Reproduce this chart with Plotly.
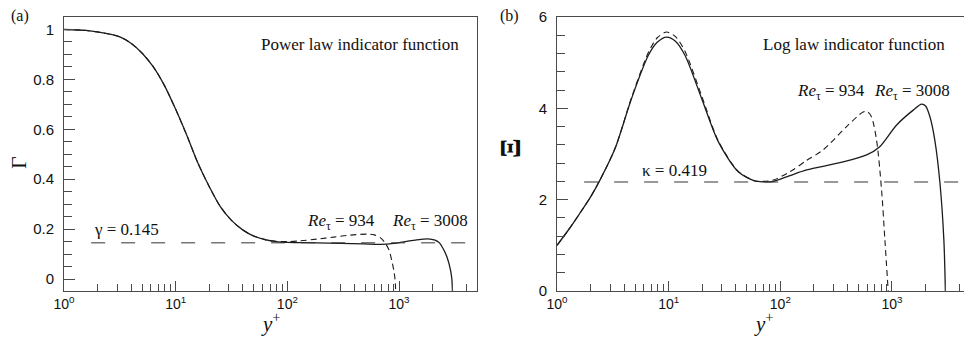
import plotly.graph_objects as go

# ---------------- data ----------------
# (a) Power law indicator function, Re_tau = 3008 (solid)
yp_a_3008 = [1, 1.58, 2.51, 3.16, 3.98, 5.01, 6.31, 7.94, 10, 12.6, 15.8, 20, 25.1, 31.6,
             39.8, 50.1, 63.1, 79.4, 100, 184, 300, 480, 683, 900, 1100, 1400, 1660, 1900,
             2100, 2300, 2520, 2700, 2890, 2970, 3008]
gam_3008 = [1.0, 0.996, 0.982, 0.970, 0.945, 0.905, 0.850, 0.775, 0.680, 0.575, 0.465,
            0.370, 0.290, 0.235, 0.197, 0.172, 0.158, 0.150, 0.147, 0.145, 0.143, 0.141,
            0.139, 0.143, 0.149, 0.156, 0.160, 0.160, 0.156, 0.145, 0.116, 0.085, 0.036,
            0.0, -0.05]
# (a) Re_tau = 934 (dashed)
yp_a_934 = [1, 1.58, 2.51, 3.16, 3.98, 5.01, 6.31, 7.94, 10, 12.6, 15.8, 20, 25.1, 31.6,
            39.8, 50.1, 63.1, 79.4, 100, 130, 184, 260, 367, 519, 600, 683, 750, 813, 860,
            896, 920, 934]
gam_934 = [1.0, 0.996, 0.982, 0.970, 0.945, 0.905, 0.850, 0.775, 0.680, 0.575, 0.465,
           0.370, 0.290, 0.235, 0.197, 0.172, 0.158, 0.151, 0.150, 0.153, 0.160, 0.168,
           0.176, 0.180, 0.177, 0.165, 0.145, 0.116, 0.075, 0.036, 0.0, -0.05]
gamma_const = 0.145

# (b) Log law indicator function, Re_tau = 3008 (solid)
yp_b_3008 = [1, 1.26, 1.58, 2.0, 2.45, 3.31, 4.66, 6.58, 7.94, 9.6, 11.5, 14.0, 19.7, 27.8,
             42, 59, 70, 86.5, 120, 172, 342, 593, 777, 1096, 1550, 1840, 2000, 2190,
             2420, 2690, 2915, 3008]
xi_3008 = [1.0, 1.33, 1.68, 2.06, 2.45, 3.12, 4.22, 5.16, 5.45, 5.56, 5.47, 5.16, 4.22,
           3.27, 2.61, 2.41, 2.39, 2.40, 2.52, 2.65, 2.81, 2.98, 3.16, 3.63, 3.96, 4.09,
           4.05, 3.81, 3.30, 2.36, 1.12, 0.0]
# (b) Re_tau = 934 (dashed)
yp_b_934 = [1, 1.26, 1.58, 2.0, 2.45, 3.31, 4.66, 6.58, 7.94, 9.6, 11.5, 14.0, 19.7, 27.8,
            42, 59, 70, 86.5, 122, 170, 242, 392, 552, 600, 656, 728, 807, 864, 925]
xi_934 = [1.0, 1.33, 1.68, 2.06, 2.45, 3.12, 4.24, 5.22, 5.55, 5.67, 5.57, 5.25, 4.28,
          3.29, 2.62, 2.41, 2.40, 2.43, 2.61, 2.85, 3.09, 3.60, 3.92, 3.93, 3.81, 3.30,
          2.21, 1.12, 0.0]
kappa = 0.419
xi_const = 1 / kappa

xtick_vals = [1, 10, 100, 1000]
xtick_text = ["10<sup>0</sup>", "10<sup>1</sup>", "10<sup>2</sup>", "10<sup>3</sup>"]

# ---------------- figure ----------------
W, H = 964, 338
def px(x):
    return x / W
def py(y):
    return 1 - y / H

CURVE = "#1c1c1c"
AXC = "#4a4a4a"
SANS = "Liberation Sans, Arial, sans-serif"
SERIF = "Liberation Serif, Times New Roman, serif"

fig = go.Figure()

fig.add_trace(go.Scatter(x=yp_a_3008, y=gam_3008, mode="lines", xaxis="x", yaxis="y",
                         line=dict(color=CURVE, width=1.3, shape="spline", smoothing=0.8)))
fig.add_trace(go.Scatter(x=yp_a_934, y=gam_934, mode="lines", xaxis="x", yaxis="y",
                         line=dict(color=CURVE, width=1.1, dash="6px,4px", shape="spline", smoothing=0.8)))
fig.add_trace(go.Scatter(x=[1.75, 5000], y=[gamma_const, gamma_const], mode="lines",
                         xaxis="x", yaxis="y", line=dict(color="#333", width=1, dash="14px,16px")))

fig.add_trace(go.Scatter(x=yp_b_3008, y=xi_3008, mode="lines", xaxis="x2", yaxis="y2",
                         line=dict(color=CURVE, width=1.3, shape="spline", smoothing=0.8)))
fig.add_trace(go.Scatter(x=yp_b_934, y=xi_934, mode="lines", xaxis="x2", yaxis="y2",
                         line=dict(color=CURVE, width=1.1, dash="6px,4px", shape="spline", smoothing=0.8)))
fig.add_trace(go.Scatter(x=[1.75, 5000], y=[xi_const, xi_const], mode="lines",
                         xaxis="x2", yaxis="y2", line=dict(color="#333", width=1, dash="14px,16px")))

ydom = [py(291), py(16.5)]
xcommon = dict(type="log", showgrid=False, zeroline=False, showline=True, linecolor=AXC,
               linewidth=1, mirror=True, ticks="inside", ticklen=10, tickcolor=AXC,
               automargin=False,
               tickmode="array", tickvals=xtick_vals, ticktext=xtick_text,
               tickfont=dict(family=SANS, size=14, color="#111"),
               minor=dict(ticks="inside", ticklen=7, tickcolor=AXC, dtick="D1", showgrid=False))
ycommon = dict(showgrid=False, zeroline=False, showline=True, linecolor=AXC, linewidth=1,
               ticks="inside", ticklen=11, tickcolor=AXC, ticklabelstandoff=6,
               automargin=False,
               tickfont=dict(family=SANS, size=15, color="#111"))

fig.update_layout(
    width=W, height=H, margin=dict(l=0, r=0, t=0, b=0, autoexpand=False),
    paper_bgcolor="white", plot_bgcolor="white", showlegend=False,
    xaxis=dict(xcommon, domain=[px(64), px(477)], range=[0, 3.698], anchor="y"),
    yaxis=dict(ycommon, domain=ydom, range=[-0.048, 1.052], tickmode="array",
               tickvals=[0, 0.2, 0.4, 0.6, 0.8, 1], ticktext=["0", "0.2", "0.4", "0.6", "0.8", "1"],
               mirror=True, anchor="x",
               minor=dict(ticks="inside", ticklen=8, tickcolor=AXC, dtick=0.05, tick0=0)),
    xaxis2=dict(xcommon, domain=[px(557), 1.0], range=[0, 3.645], anchor="y2"),
    yaxis2=dict(ycommon, domain=ydom, range=[0, 6.01], tickmode="array",
                tickvals=[0, 2, 4, 6], ticktext=["0", "2", "4", "6"], mirror=False, anchor="x2",
                minor=dict(ticks="inside", ticklen=8, tickcolor=AXC, dtick=0.4, tick0=0)),
)

ann = []
def add_text(text, x, y, size, family=SERIF, angle=0, xanchor="center", yanchor="middle"):
    ann.append(dict(text=text, x=px(x), y=py(y), xref="paper", yref="paper", showarrow=False,
                    font=dict(family=family, size=size, color="#111"), textangle=angle,
                    xanchor=xanchor, yanchor=yanchor))

# panel (a)
add_text("(a)", 20, 16, 16)
add_text("Γ", 18, 163, 22, angle=-90)
add_text("<i>y</i><sup>+</sup>", 271, 322, 21)
add_text("Power law indicator function", 360, 44, 17)
add_text("γ = 0.145", 126, 229, 17)
add_text("<i>Re</i><sub>τ</sub> = 934", 341, 222, 17)
add_text("<i>Re</i><sub>τ</sub> = 3008", 430, 222, 17)
# panel (b)
add_text("(b)", 509, 16, 16)
add_text("<b>Ξ</b>", 510, 148, 29, angle=-90)
add_text("<i>y</i><sup>+</sup>", 764, 322, 21)
add_text("Log law indicator function", 854, 44, 17)
add_text("κ = 0.419", 674, 170, 17)
add_text("<i>Re</i><sub>τ</sub> = 934", 831, 92, 17)
add_text("<i>Re</i><sub>τ</sub> = 3008", 912, 92, 17)

fig.update_layout(annotations=ann)
fig.write_html("out.html")
